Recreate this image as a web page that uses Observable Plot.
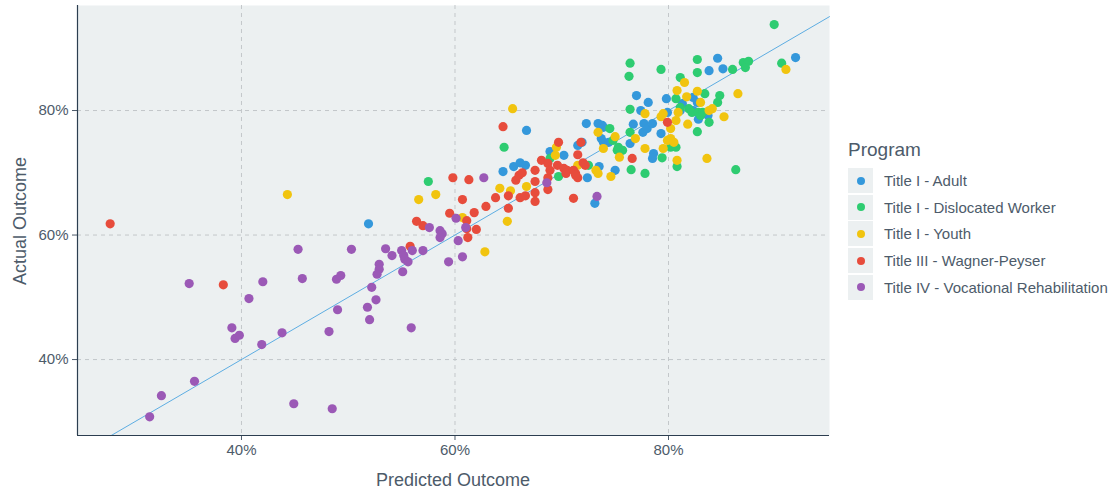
<!DOCTYPE html>
<html><head><meta charset="utf-8">
<script src="https://cdn.jsdelivr.net/npm/d3@7"></script>
<script src="https://cdn.jsdelivr.net/npm/@observablehq/plot@0.6"></script>
<style>
body{margin:0;background:#fff;font-family:"Liberation Sans",Arial,sans-serif;}
#wrap{position:relative;width:1116px;height:493px;overflow:hidden;}
#wrap svg{position:absolute;left:0;top:0;}
.axt{position:absolute;font-size:18px;color:#4d5b6a;white-space:nowrap;line-height:20px;}
#legend{position:absolute;left:848px;top:140px;color:#4d5b6a;}
#legend .title{font-size:19px;line-height:20px;height:28px;}
#legend .row{display:flex;align-items:center;height:25px;margin-bottom:1.7px;}
#legend .key{width:25px;height:25px;background:#ECF0F1;display:flex;align-items:center;justify-content:center;margin-right:11px;}
#legend .dot{width:8px;height:8px;border-radius:50%;}
#legend .lab{font-size:15px;}
</style></head><body><div id="wrap"></div><script>
// ---- data ----
const programs = ["Title I - Adult","Title I - Dislocated Worker","Title I - Youth","Title III - Wagner-Peyser","Title IV - Vocational Rehabilitation"];
const colors = ["#3498DB","#2ECC71","#F1C40F","#E74C3C","#9B59B6"];
const xTicks = [40,60,80];
const yTicks = [40,60,80];
const xDomain = [24.64,95.08];
const yDomain = [27.8,96.87];

// [predicted %, actual %]
const adult = [[51.9,61.8],[64.5,70.2],[65.5,71.0],[66.1,71.6],[66.6,71.2],[66.7,76.8],[68.9,73.4],[70.2,72.8],[71.5,74.4],[71.9,74.9],[72.3,77.9],[72.4,69.2],[73.1,65.1],[73.4,77.9],[73.8,77.6],[73.9,77.3],[73.7,75.5],[73.9,74.9],[74.4,74.9],[73.5,71.0],[75.0,70.4],[76.4,74.7],[76.7,77.8],[77.4,80.0],[77.6,76.5],[77.7,77.9],[78.0,77.1],[78.5,77.9],[78.1,81.3],[78.6,73.1],[78.5,72.3],[79.3,76.3],[77.0,82.4],[79.8,81.9],[79.9,79.7],[81.3,81.1],[81.1,80.0],[82.3,80.0],[82.3,82.1],[82.7,81.3],[82.8,78.6],[83.7,79.2],[83.8,86.4],[84.6,88.4],[85.1,86.7],[91.9,88.5]];
const dislocated = [[57.5,68.6],[64.6,74.1],[68.9,72.3],[69.7,69.4],[72.5,71.2],[74.5,77.1],[74.8,75.2],[75.3,74.1],[75.7,73.6],[75.2,73.6],[76.4,76.5],[76.4,80.2],[76.4,87.6],[76.3,85.5],[79.3,86.6],[76.5,70.5],[77.8,69.9],[79.4,72.4],[80.2,74.1],[80.7,74.1],[80.7,81.9],[80.8,71.0],[81.1,85.3],[81.1,80.5],[81.9,80.3],[82.2,79.7],[82.8,79.7],[82.7,88.2],[82.7,86.1],[82.7,76.6],[83.0,79.2],[83.2,79.7],[83.4,82.7],[83.8,78.1],[84.6,81.3],[84.8,82.4],[86.0,86.6],[87.0,87.7],[87.5,87.9],[87.2,86.9],[86.3,70.5],[89.9,93.8],[90.6,87.6]];
const youth = [[44.3,66.5],[56.6,65.7],[58.2,66.5],[60.7,62.8],[62.8,57.3],[65.4,80.3],[64.2,67.5],[65.2,67.1],[64.9,62.2],[66.7,67.8],[69.4,72.8],[69.5,74.1],[71.5,71.2],[73.2,70.4],[73.4,69.9],[73.4,76.5],[73.9,73.9],[74.6,69.4],[75.0,75.8],[75.4,72.5],[76.9,75.5],[77.8,79.5],[77.8,73.9],[79.3,79.0],[79.5,79.5],[79.5,73.9],[80.2,77.1],[80.2,75.5],[80.5,74.9],[79.9,75.2],[80.7,78.4],[80.8,83.2],[80.8,72.0],[80.9,79.7],[81.5,84.5],[81.7,82.2],[81.8,77.8],[82.7,83.1],[83.0,81.3],[83.6,72.3],[83.8,80.0],[84.1,80.3],[85.2,79.0],[86.5,82.7],[91.0,86.6]];
const wagner = [[27.7,61.8],[38.3,52.0],[55.8,58.2],[56.4,62.2],[57.0,61.5],[59.5,63.5],[60.7,65.7],[61.1,62.3],[61.1,61.0],[61.2,59.6],[62.0,60.9],[61.8,63.6],[62.9,64.6],[63.8,66.0],[59.8,69.2],[61.3,68.9],[64.5,77.4],[65.0,66.3],[65.0,64.3],[65.7,68.8],[66.0,69.6],[66.3,70.0],[67.5,70.4],[68.1,72.0],[67.5,68.6],[66.1,66.0],[66.6,66.3],[67.5,66.8],[67.5,65.4],[68.7,67.3],[68.7,69.2],[71.1,65.9],[69.7,74.9],[68.7,71.5],[68.9,70.4],[69.6,71.2],[70.2,70.7],[70.5,70.4],[70.4,69.9],[71.3,69.9],[71.5,69.2],[72.0,71.6],[71.5,72.9],[72.2,71.2],[71.8,74.9],[71.1,70.4],[71.3,69.6],[76.6,72.3],[79.9,78.1]];
const vocrehab = [[31.4,30.8],[32.5,34.2],[35.6,36.5],[35.1,52.2],[39.1,45.1],[39.4,43.4],[39.8,43.9],[40.7,49.8],[42.0,52.5],[41.9,42.4],[43.8,44.3],[45.3,57.7],[45.7,53.0],[44.9,32.9],[48.5,32.1],[48.2,44.5],[49.0,48.0],[48.9,52.9],[49.3,53.5],[50.3,57.7],[52.2,51.6],[51.8,48.4],[52.6,49.6],[52.0,46.4],[55.9,45.1],[52.9,55.3],[52.9,54.5],[52.7,53.7],[53.5,57.8],[54.1,56.7],[55.0,57.5],[55.2,56.7],[55.3,56.1],[55.6,55.7],[55.1,54.1],[56.0,57.5],[57.0,57.5],[57.6,61.2],[58.6,60.7],[58.8,60.2],[58.6,59.6],[59.4,55.7],[60.1,62.7],[60.3,59.1],[60.7,56.5],[61.0,61.2],[62.7,69.2],[68.6,68.4],[73.3,66.2]];

const series = [adult, dislocated, youth, wagner, vocrehab];
const rows = [];
series.forEach((s, i) => s.forEach(([p, a]) => rows.push({program: programs[i], predicted: p, actual: a})));
const diag = [Math.max(xDomain[0], yDomain[0]), Math.min(xDomain[1], yDomain[1])];

const chart = Plot.plot({
  width: 830, height: 493,
  marginLeft: 77, marginRight: 1, marginTop: 5, marginBottom: 58,
  style: {fontFamily: '"Liberation Sans", Arial, sans-serif', fontSize: "15px", color: "#4d5b6a", background: "transparent", overflow: "visible"},
  x: {domain: xDomain, ticks: xTicks, tickFormat: d => d + "%", label: null, tickSize: 5, tickPadding: 4},
  y: {domain: yDomain, ticks: yTicks, tickFormat: d => d + "%", label: null, tickSize: 5, tickPadding: 4},
  color: {domain: programs, range: colors},
  marks: [
    Plot.frame({fill: "#ECF0F1", stroke: "none"}),
    Plot.ruleX(xTicks, {stroke: "#c3c7ca", strokeDasharray: "4,4", strokeWidth: 1}),
    Plot.ruleY(yTicks, {stroke: "#c3c7ca", strokeDasharray: "4,4", strokeWidth: 1}),
    Plot.line(diag, {x: d => d, y: d => d, stroke: "#5DADE2", strokeWidth: 1}),
    Plot.dot(rows, {x: "predicted", y: "actual", fill: "program", r: 4.6, stroke: "none"}),
    Plot.ruleX([xDomain[0]], {stroke: "#2c3e50", strokeWidth: 1.2}),
    Plot.ruleY([yDomain[0]], {stroke: "#2c3e50", strokeWidth: 1.2})
  ]
});
const wrap = document.getElementById("wrap");
wrap.appendChild(chart);

const xt = document.createElement("div");
xt.className = "axt"; xt.textContent = "Predicted Outcome";
xt.style.left = "453px"; xt.style.top = "480px"; xt.style.transform = "translate(-50%,-50%)";
wrap.appendChild(xt);
const yt = document.createElement("div");
yt.className = "axt"; yt.textContent = "Actual Outcome";
yt.style.left = "20px"; yt.style.top = "221px"; yt.style.transform = "translate(-50%,-50%) rotate(-90deg)";
wrap.appendChild(yt);

const lg = document.createElement("div");
lg.id = "legend";
const t = document.createElement("div"); t.className = "title"; t.textContent = "Program"; lg.appendChild(t);
programs.forEach((p, i) => {
  const r = document.createElement("div"); r.className = "row";
  const k = document.createElement("div"); k.className = "key";
  const d = document.createElement("div"); d.className = "dot"; d.style.background = colors[i];
  k.appendChild(d); r.appendChild(k);
  const l = document.createElement("div"); l.className = "lab"; l.textContent = p; r.appendChild(l);
  lg.appendChild(r);
});
wrap.appendChild(lg);
</script></body></html>
